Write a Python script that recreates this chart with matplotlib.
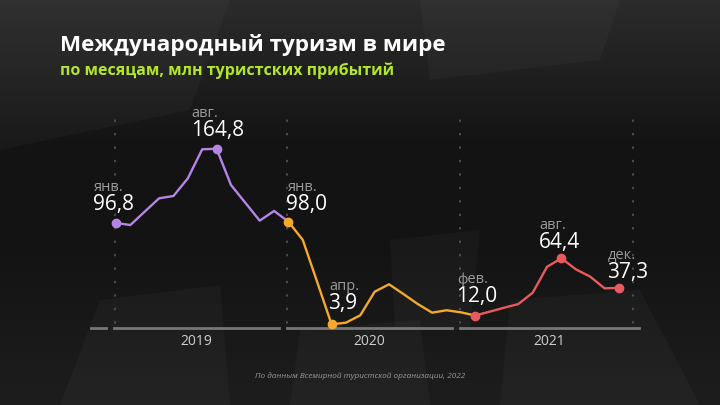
import numpy as np
import matplotlib
matplotlib.use("Agg")
import matplotlib.pyplot as plt
from matplotlib.patches import Polygon

#------ data (million international tourist arrivals per month)
months_ru = ['янв.', 'фев.', 'мар.', 'апр.', 'май', 'июн.',
             'июл.', 'авг.', 'сен.', 'окт.', 'ноя.', 'дек.']
years = ['2019', '2020', '2021']
arrivals_2019 = [96.8, 94.9, 107.2, 119.4, 121.5, 137.7, 164.3, 164.8, 131.6, 115.3, 98.9, 107.8]
arrivals_2020 = [98.0, 81.2, 42.7, 3.9, 5.4, 12.2, 33.8, 40.6, 31.7, 22.5, 14.6, 16.8]
arrivals_2021 = [14.9, 12.0, 15.5, 19.1, 22.5, 32.9, 56.7, 64.4, 54.3, 47.6, 36.9, 37.3]

# labelled points: (year idx, month idx)
highlights = [(0, 0), (0, 7), (1, 0), (1, 3), (2, 1), (2, 7), (2, 11)]

title = 'Международный туризм в мире'
subtitle = 'по месяцам, млн туристских прибытий'
source = 'По данным Всемирной туристской организации, 2022'

#------ layout / style
plt.rcParams['font.family'] = ['Open Sans', 'DejaVu Sans']
colors = ['#b585e6', '#f2a92c', '#ea5a5c']
breaks = [0, 12, 25, 35]      # colour changes at jan-2020 and feb-2021
# label offsets in pixels (dx of text left, dy of number baseline)
label_off = [(-23, 13), (-26, 13), (-2, 12), (-3, 15), (-19, 14), (-23, 10), (-12, 10)]

values = np.array(arrivals_2019 + arrivals_2020 + arrivals_2021)
x = np.arange(len(values))

fig = plt.figure(figsize=(7.2, 4.05), dpi=100)
fig.patch.set_facecolor('#151515')

#------ background
bg = fig.add_axes([0, 0, 1, 1], zorder=0)
bg.set_xlim(0, 720)
bg.set_ylim(405, 0)
bg.axis('off')
grad = np.linspace(0, 1, 256)[:, None]
shade = np.clip(0.17 - 0.12 * grad * 2.2, 0.075, 0.17) + np.clip(grad - 0.6, 0, 1) * 0.10
bg.imshow(np.dstack([shade, shade, shade]), extent=[0, 720, 405, 0], aspect='auto')
shapes = [
    [(0, 0), (230, 0), (190, 110), (0, 150)],
    [(420, 0), (620, 0), (600, 60), (430, 80)],
    [(100, 300), (220, 285), (230, 405), (60, 405)],
    [(300, 330), (420, 320), (430, 405), (290, 405)],
    [(510, 300), (640, 290), (700, 405), (500, 405)],
    [(390, 240), (480, 230), (470, 330), (395, 330)],
]
for pts in shapes:
    bg.add_patch(Polygon(pts, closed=True, facecolor='#ffffff', alpha=0.028, edgecolor='none'))

#------ chart axes (full figure, data -> pixel mapping)
ax = fig.add_axes([0, 0, 1, 1], zorder=1)
ax.patch.set_alpha(0)
ax.axis('off')
ax.set_xlim((0 - 116) / 14.37, (720 - 116) / 14.37)
ax.set_ylim((328.6 - 405) / 1.0914, 328.6 / 1.0914)

# dotted guides
for gx in [-0.1, 11.9, 23.94, 36.0]:
    ax.plot([gx, gx], [5, 200], color='#5e5e5e', lw=1.1, ls=(0, (0.8, 8)),
            dash_capstyle='round', zorder=1)

# baseline segments + year labels
ax.plot([-1.75, -0.7], [0.8, 0.8], color='#777777', lw=2, zorder=2)
seg = [(-0.14, 11.34), (11.9, 23.38), (23.94, 36.4)]
for (a, b), yr in zip(seg, years):
    ax.plot([a, b], [0.8, 0.8], color='#777777', lw=2, zorder=2)
    ax.text((a + b) / 2, -11.5, yr, color='#cfcfcf', fontsize=10,
            ha='center', va='center')

# line segments
for i, c in enumerate(colors):
    s, e = breaks[i], breaks[i + 1]
    ax.plot(x[s:e + 1], values[s:e + 1], color=c, lw=1.7, zorder=3,
            solid_joinstyle='round')

# labelled points
for (yi, mi), (dx, dy) in zip(highlights, label_off):
    idx = yi * 12 + mi
    c = colors[min(np.searchsorted(breaks, idx, side='right') - 1, 2)]
    ax.plot(x[idx], values[idx], 'o', color=c, ms=6, zorder=4)
    num = f'{values[idx]:.1f}'.replace('.', ',')
    ax.annotate(num, (x[idx], values[idx]), xytext=(dx, dy),
                textcoords='offset pixels', ha='left', va='baseline',
                color='white', fontsize=15, zorder=5)
    ax.annotate(months_ru[mi], (x[idx], values[idx]), xytext=(dx + 1, dy + 19),
                textcoords='offset pixels', ha='left', va='baseline',
                color='#9a9a9a', fontsize=10.5, zorder=5)

#------ titles
fig.text(60 / 720, 1 - 45 / 405, title, color='white', fontsize=16.2,
         fontweight='bold', ha='left', va='center')
fig.text(60 / 720, 1 - 70.5 / 405, subtitle, color='#b3e52b', fontsize=11.5,
         fontweight='bold', ha='left', va='center')
fig.text(360 / 720, 1 - 376 / 405, source, color='#9a9a9a', fontsize=5.9,
         style='italic', ha='center', va='center')

fig.savefig('out.png', dpi=100, facecolor=fig.get_facecolor())
